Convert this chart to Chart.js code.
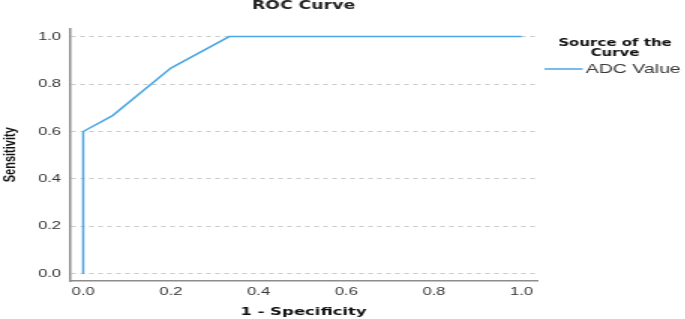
<!DOCTYPE html>
<html>
<head>
<meta charset="utf-8">
<script src="https://cdn.jsdelivr.net/npm/chart.js@4"></script>
<style>
  body { margin: 0; background: #fff; overflow: hidden; }
  /* the source picture is stretched sideways, so draw narrow and widen */
  #roc { display: block; transform: scaleX(1.5); transform-origin: 0 0; }
</style>
</head>
<body>
<canvas id="roc" width="457" height="319"></canvas>
<script>
const specificity1 = [0, 0, 0.067, 0.2, 0.333, 1];
const sensitivity = [0, 0.6, 0.667, 0.867, 1, 1];
const seriesName = 'ADC Value';
const tickValues = [0, 0.2, 0.4, 0.6, 0.8, 1.0];

const points = specificity1.map((x, i) => ({ x: x, y: sensitivity[i] }));

// legend at the right, like the SPSS output
const sideLegend = {
  id: 'sideLegend',
  afterDraw(chart) {
    const c = chart.ctx;
    const r = chart.chartArea.right;
    const ds = chart.data.datasets[0];
    c.save();
    c.fillStyle = '#111';
    c.font = 'bold 10px "DejaVu Sans"';
    c.textAlign = 'center';
    c.textBaseline = 'middle';
    c.fillText('Source of the', r + 52, 43.5);
    c.fillText('Curve', r + 52, 53);
    c.strokeStyle = ds.borderColor;
    c.lineWidth = 1.5;
    c.beginPath();
    c.moveTo(r + 5, 69);
    c.lineTo(r + 30.5, 69);
    c.stroke();
    c.fillStyle = '#3a3a3a';
    c.font = '13px "Liberation Sans"';
    c.textAlign = 'left';
    c.fillText(ds.label, r + 32.5, 69.5);
    c.restore();
  }
};

new Chart(document.getElementById('roc'), {
  type: 'line',
  data: {
    datasets: [{
      label: seriesName,
      data: points,
      borderColor: '#4aa6e4',
      borderWidth: 1.5,
      pointRadius: 0,
      tension: 0,
      fill: false
    }]
  },
  options: {
    responsive: false,
    animation: false,
    layout: { padding: { left: 0, right: 99, top: 0, bottom: 0 } },
    plugins: {
      legend: { display: false },
      tooltip: { enabled: false },
      title: {
        display: true,
        text: 'ROC Curve',
        fullSize: false,
        color: '#222',
        font: { family: 'DejaVu Sans', size: 11.5, weight: 'bold', lineHeight: 1 },
        padding: { top: 0.5, bottom: 16.5 }
      }
    },
    scales: {
      x: {
        type: 'linear',
        min: -0.03,
        max: 1.035,
        afterFit: (s) => { s.height = 38; },
        afterBuildTicks: (s) => { s.ticks = tickValues.map(v => ({ value: v })); },
        grid: { display: false, drawTicks: false },
        border: { display: true, color: '#8c8c8c', width: 1.5 },
        ticks: {
          padding: 4,
          color: '#333',
          font: { family: 'Liberation Sans', size: 11 },
          callback: (v) => v.toFixed(1)
        },
        title: {
          display: true,
          text: '1 - Specificity',
          color: '#111',
          font: { family: 'DejaVu Sans', size: 11, weight: 'bold' },
          padding: 0
        }
      },
      y: {
        min: -0.03,
        max: 1.034,
        afterFit: (s) => { s.width = 46.7; },
        afterBuildTicks: (s) => { s.ticks = tickValues.map(v => ({ value: v })); },
        grid: { color: '#c8c8c8', lineWidth: 1, drawTicks: false },
        border: { display: true, color: '#8c8c8c', width: 1.5, dash: [3, 3] },
        ticks: {
          padding: 6,
          color: '#333',
          font: { family: 'Liberation Sans', size: 11 },
          callback: (v) => v.toFixed(1)
        },
        title: {
          display: true,
          text: 'Sensitivity',
          color: '#111',
          font: { family: 'Liberation Sans', size: 11, weight: 'bold' },
          padding: 0
        }
      }
    }
  },
  plugins: [sideLegend]
});
</script>
</body>
</html>
